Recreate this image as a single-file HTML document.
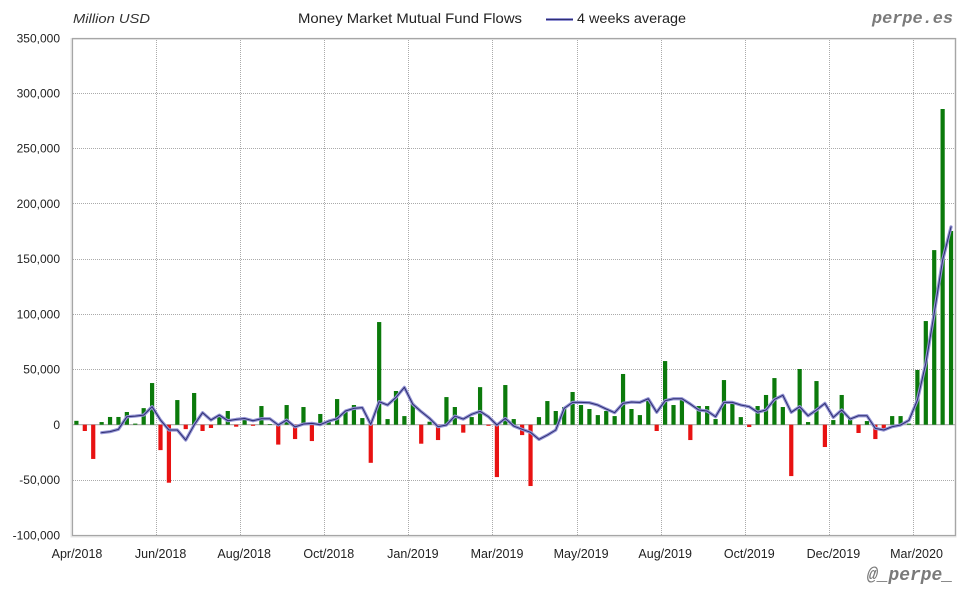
<!DOCTYPE html>
<html><head><meta charset="utf-8">
<style>
html,body{margin:0;padding:0;background:#fff;}
svg{display:block;}
.s{font-family:"Liberation Sans",sans-serif;}
.m{font-family:"Liberation Mono",monospace;font-weight:bold;font-style:italic;}
</style></head>
<body>
<svg width="980" height="600" viewBox="0 0 980 600" xmlns="http://www.w3.org/2000/svg">
<defs>
<polyline id="avg" fill="none" stroke-linejoin="round" stroke-linecap="round" points="101.63,432.66 110.04,431.66 118.45,429.34 126.86,416.74 135.27,416.08 143.68,415.09 152.09,406.69 160.5,420.06 168.91,430 177.32,430 185.73,440.06 194.14,425.03 202.55,412.66 210.96,420.06 219.37,415.09 227.78,420.72 236.19,419.4 244.6,418.51 253.01,420.72 261.42,418.73 269.83,418.73 278.24,425.03 286.65,420.06 295.06,426.91 303.47,424.04 311.88,423.37 320.29,424.7 328.7,421.05 337.11,418.73 345.52,411 353.93,408.35 362.34,407.68 370.75,424.37 379.16,401.72 387.57,405.03 395.98,397.41 404.39,387.35 412.8,404.26 421.21,411.66 429.62,418.4 438.03,426.69 446.44,425.03 454.85,416.08 463.26,419.06 471.67,414.31 480.08,411.33 488.49,416.74 496.9,425.03 505.31,418.4 513.72,426.03 522.13,429.34 530.54,432.32 538.95,439.4 547.36,435.09 555.77,430 564.18,408.35 572.59,402.38 581,402.38 589.41,402.71 597.82,405.03 606.23,409.01 614.64,412.66 623.05,403.37 631.46,402.05 639.87,402.38 648.28,398.73 656.69,412.32 665.1,400.72 673.51,398.73 681.92,398.73 690.33,404.04 698.74,410 707.15,411 715.56,416.74 723.97,402.38 732.38,402.38 740.79,405.03 749.2,406.69 757.61,412.21 766.02,410 774.43,399.4 782.84,395.31 791.25,412.32 799.66,406.69 808.07,415.75 816.48,410 824.89,403.37 833.3,417.41 841.71,410 850.12,419.06 858.53,415.75 866.94,415.75 875.35,428.35 883.76,430 892.17,426.69 900.58,425.03 908.99,420.28 917.4,400.06 925.81,363.37 934.22,313.32 942.63,260.06 951.04,226.91"/>
</defs>
<rect x="0" y="0" width="980" height="600" fill="#fff"/>
<rect x="71.5" y="39" width="884" height="497.5" fill="none" stroke="#e6e6e6" stroke-width="2"/>
<g stroke="#aaaaaa" stroke-width="1" stroke-dasharray="1,1" fill="none">
<line x1="73" x2="955" y1="93.5" y2="93.5"/>
<line x1="73" x2="955" y1="148.5" y2="148.5"/>
<line x1="73" x2="955" y1="203.5" y2="203.5"/>
<line x1="73" x2="955" y1="259.5" y2="259.5"/>
<line x1="73" x2="955" y1="314.5" y2="314.5"/>
<line x1="73" x2="955" y1="369.5" y2="369.5"/>
<line x1="73" x2="955" y1="480.5" y2="480.5"/>
<line x1="156.5" x2="156.5" y1="38" y2="535"/>
<line x1="240.5" x2="240.5" y1="38" y2="535"/>
<line x1="324.5" x2="324.5" y1="38" y2="535"/>
<line x1="408.5" x2="408.5" y1="38" y2="535"/>
<line x1="492.5" x2="492.5" y1="38" y2="535"/>
<line x1="577.5" x2="577.5" y1="38" y2="535"/>
<line x1="661.5" x2="661.5" y1="38" y2="535"/>
<line x1="745.5" x2="745.5" y1="38" y2="535"/>
<line x1="829.5" x2="829.5" y1="38" y2="535"/>
<line x1="913.5" x2="913.5" y1="38" y2="535"/>
</g>
<line x1="72.5" x2="955" y1="424.7" y2="424.7" stroke="#a8a8a8" stroke-width="1.2"/>
<rect x="72.5" y="38.5" width="883" height="497" fill="none" stroke="#a6a6a6" stroke-width="1.2"/>

<g transform="translate(74.3,424.7) scale(8.41,-1.105)">
<g fill="#0b7a0b">
<rect x="0" y="0" width="0.5" height="3.5"/>
<rect x="3" y="0" width="0.5" height="2.4"/>
<rect x="4" y="0" width="0.5" height="7"/>
<rect x="5" y="0" width="0.5" height="7"/>
<rect x="6" y="0" width="0.5" height="11.5"/>
<rect x="7" y="0" width="0.5" height="1"/>
<rect x="8" y="0" width="0.5" height="15"/>
<rect x="9" y="0" width="0.5" height="37.7"/>
<rect x="12" y="0" width="0.5" height="22.3"/>
<rect x="14" y="0" width="0.5" height="28.7"/>
<rect x="17" y="0" width="0.5" height="8.7"/>
<rect x="18" y="0" width="0.5" height="12.4"/>
<rect x="20" y="0" width="0.5" height="4.5"/>
<rect x="22" y="0" width="0.5" height="16.9"/>
<rect x="23" y="0" width="0.5" height="0.6"/>
<rect x="25" y="0" width="0.5" height="17.8"/>
<rect x="27" y="0" width="0.5" height="16"/>
<rect x="29" y="0" width="0.5" height="9.7"/>
<rect x="30" y="0" width="0.5" height="2.4"/>
<rect x="31" y="0" width="0.5" height="23.2"/>
<rect x="32" y="0" width="0.5" height="12.4"/>
<rect x="33" y="0" width="0.5" height="17.8"/>
<rect x="34" y="0" width="0.5" height="6"/>
<rect x="36" y="0" width="0.5" height="92.9"/>
<rect x="37" y="0" width="0.5" height="5.1"/>
<rect x="38" y="0" width="0.5" height="30.5"/>
<rect x="39" y="0" width="0.5" height="7.8"/>
<rect x="40" y="0" width="0.5" height="19"/>
<rect x="42" y="0" width="0.5" height="2.7"/>
<rect x="44" y="0" width="0.5" height="25"/>
<rect x="45" y="0" width="0.5" height="16"/>
<rect x="47" y="0" width="0.5" height="6.9"/>
<rect x="48" y="0" width="0.5" height="34"/>
<rect x="51" y="0" width="0.5" height="35.9"/>
<rect x="52" y="0" width="0.5" height="5.1"/>
<rect x="55" y="0" width="0.5" height="6.9"/>
<rect x="56" y="0" width="0.5" height="21.4"/>
<rect x="57" y="0" width="0.5" height="12.4"/>
<rect x="58" y="0" width="0.5" height="16"/>
<rect x="59" y="0" width="0.5" height="29.6"/>
<rect x="60" y="0" width="0.5" height="17.8"/>
<rect x="61" y="0" width="0.5" height="14.2"/>
<rect x="62" y="0" width="0.5" height="8.7"/>
<rect x="63" y="0" width="0.5" height="12.4"/>
<rect x="64" y="0" width="0.5" height="7.8"/>
<rect x="65" y="0" width="0.5" height="45.9"/>
<rect x="66" y="0" width="0.5" height="14.2"/>
<rect x="67" y="0" width="0.5" height="8.7"/>
<rect x="68" y="0" width="0.5" height="23.2"/>
<rect x="70" y="0" width="0.5" height="57.6"/>
<rect x="71" y="0" width="0.5" height="17.8"/>
<rect x="72" y="0" width="0.5" height="23.2"/>
<rect x="74" y="0" width="0.5" height="16.9"/>
<rect x="75" y="0" width="0.5" height="16.9"/>
<rect x="76" y="0" width="0.5" height="5.1"/>
<rect x="77" y="0" width="0.5" height="40.4"/>
<rect x="78" y="0" width="0.5" height="19.6"/>
<rect x="79" y="0" width="0.5" height="6.9"/>
<rect x="81" y="0" width="0.5" height="16.9"/>
<rect x="82" y="0" width="0.5" height="26.9"/>
<rect x="83" y="0" width="0.5" height="42.2"/>
<rect x="84" y="0" width="0.5" height="16"/>
<rect x="86" y="0" width="0.5" height="50.4"/>
<rect x="87" y="0" width="0.5" height="2.4"/>
<rect x="88" y="0" width="0.5" height="39.5"/>
<rect x="90" y="0" width="0.5" height="4.2"/>
<rect x="91" y="0" width="0.5" height="26.9"/>
<rect x="92" y="0" width="0.5" height="5.1"/>
<rect x="94" y="0" width="0.5" height="3.3"/>
<rect x="97" y="0" width="0.5" height="7.8"/>
<rect x="98" y="0" width="0.5" height="7.8"/>
<rect x="99" y="0" width="0.5" height="1"/>
<rect x="100" y="0" width="0.5" height="49.5"/>
<rect x="101" y="0" width="0.5" height="93.8"/>
<rect x="102" y="0" width="0.5" height="158"/>
<rect x="103" y="0" width="0.5" height="285.7"/>
<rect x="104" y="0" width="0.5" height="175.3"/>
</g>
<g fill="#e81212">
<rect x="1" y="-5.7" width="0.5" height="5.7"/>
<rect x="2" y="-31" width="0.5" height="31"/>
<rect x="10" y="-23" width="0.5" height="23"/>
<rect x="11" y="-52.5" width="0.5" height="52.5"/>
<rect x="13" y="-4" width="0.5" height="4"/>
<rect x="15" y="-5.7" width="0.5" height="5.7"/>
<rect x="16" y="-3" width="0.5" height="3"/>
<rect x="19" y="-1.8" width="0.5" height="1.8"/>
<rect x="21" y="-1" width="0.5" height="1"/>
<rect x="24" y="-18" width="0.5" height="18"/>
<rect x="26" y="-13" width="0.5" height="13"/>
<rect x="28" y="-14.8" width="0.5" height="14.8"/>
<rect x="35" y="-34.5" width="0.5" height="34.5"/>
<rect x="41" y="-17.2" width="0.5" height="17.2"/>
<rect x="43" y="-13.9" width="0.5" height="13.9"/>
<rect x="46" y="-7.2" width="0.5" height="7.2"/>
<rect x="49" y="-1" width="0.5" height="1"/>
<rect x="50" y="-47.4" width="0.5" height="47.4"/>
<rect x="53" y="-9.4" width="0.5" height="9.4"/>
<rect x="54" y="-55.5" width="0.5" height="55.5"/>
<rect x="69" y="-5.7" width="0.5" height="5.7"/>
<rect x="73" y="-13.9" width="0.5" height="13.9"/>
<rect x="80" y="-2.1" width="0.5" height="2.1"/>
<rect x="85" y="-46.5" width="0.5" height="46.5"/>
<rect x="89" y="-20.2" width="0.5" height="20.2"/>
<rect x="93" y="-7.5" width="0.5" height="7.5"/>
<rect x="95" y="-13" width="0.5" height="13"/>
<rect x="96" y="-3.9" width="0.5" height="3.9"/>
</g>
</g>
<use href="#avg" stroke="#9494d4" stroke-width="3.2"/>
<use href="#avg" stroke="#2e2e72" stroke-width="1"/>

<g class="s" font-size="12" fill="#222" text-anchor="end">
<text x="60" y="42.5">350,000</text>
<text x="60" y="97.5">300,000</text>
<text x="60" y="152.5">250,000</text>
<text x="60" y="208">200,000</text>
<text x="60" y="263">150,000</text>
<text x="60" y="318.5">100,000</text>
<text x="60" y="373.5">50,000</text>
<text x="60" y="429">0</text>
<text x="60" y="484">-50,000</text>
<text x="60" y="539.5">-100,000</text>
</g>
<g class="s" font-size="12.5" fill="#222" text-anchor="middle">
<text x="77" y="558">Apr/2018</text>
<text x="160.6" y="558">Jun/2018</text>
<text x="244.2" y="558">Aug/2018</text>
<text x="328.8" y="558">Oct/2018</text>
<text x="412.9" y="558">Jan/2019</text>
<text x="497" y="558">Mar/2019</text>
<text x="581.1" y="558">May/2019</text>
<text x="665.2" y="558">Aug/2019</text>
<text x="749.3" y="558">Oct/2019</text>
<text x="833.4" y="558">Dec/2019</text>
<text x="916.5" y="558">Mar/2020</text>
</g>

<text class="s" x="73" y="23" font-size="13" font-style="italic" fill="#333" textLength="77" lengthAdjust="spacingAndGlyphs">Million USD</text>
<text class="s" x="298" y="23" font-size="14" fill="#222" textLength="224" lengthAdjust="spacingAndGlyphs">Money Market Mutual Fund Flows</text>
<line x1="546" x2="573" y1="19.5" y2="19.5" stroke="#9494d4" stroke-width="3"/>
<line x1="546" x2="573" y1="19.5" y2="19.5" stroke="#2e2e72" stroke-width="1"/>
<text class="s" x="577" y="23" font-size="14" fill="#222" textLength="109" lengthAdjust="spacingAndGlyphs">4 weeks average</text>
<text class="m" x="872" y="23" font-size="17" fill="#7a7a7a" textLength="81" lengthAdjust="spacingAndGlyphs">perpe.es</text>
<text class="m" x="867" y="580" font-size="18" fill="#7a7a7a" textLength="86" lengthAdjust="spacingAndGlyphs">@_perpe_</text>
</svg>
</body></html>
